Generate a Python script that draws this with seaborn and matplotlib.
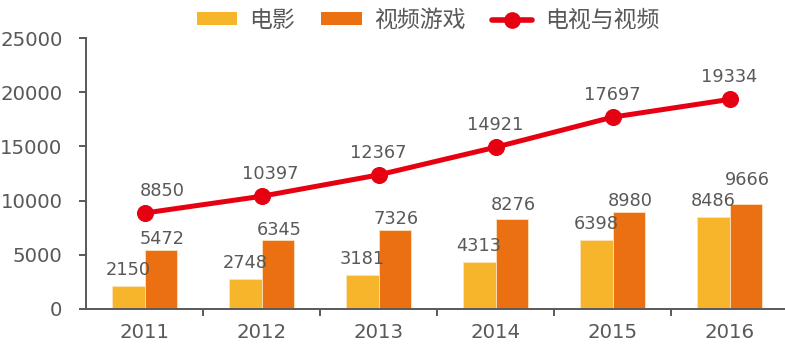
import numpy as np
import pandas as pd
import matplotlib
matplotlib.use("Agg")
import matplotlib.pyplot as plt
import seaborn as sns
from matplotlib.patches import Patch
from matplotlib.lines import Line2D

# datos
years = ["2011", "2012", "2013", "2014", "2015", "2016"]
movies = [2150, 2748, 3181, 4313, 6398, 8486]
games = [5472, 6345, 7326, 8276, 8980, 9666]
tv_video = [8850, 10397, 12367, 14921, 17697, 19334]
series_names = ["电影", "视频游戏", "电视与视频"]

sns.set_theme(style="white")
plt.rcParams["font.family"] = ["DejaVu Sans", "Noto Sans CJK SC"]

gray = "#595959"
c_movie = "#F7B52C"
c_game = "#EB7012"
c_line = "#E60012"

df = pd.DataFrame({"year": years * 2,
                   "value": movies + games,
                   "serie": [series_names[0]] * 6 + [series_names[1]] * 6})

fig = plt.figure(figsize=(7.85, 3.54), dpi=100)
ax = fig.add_axes([86 / 785, 45 / 354, 702 / 785, 271 / 354])

sns.barplot(data=df, x="year", y="value", hue="serie",
            palette=[c_movie, c_game], saturation=1, width=0.56, gap=0,
            edgecolor="#FBE3C0", linewidth=0.6, legend=False, ax=ax)

x = np.arange(len(years))
sns.lineplot(x=x, y=tv_video, color=c_line, linewidth=3.6, marker="o",
             markersize=11.5, markeredgecolor=c_line, ax=ax)

# etiquetas de valores (ajustes a mano como en el original)
fs = 12.8
game_off = [1, 1, 1, 4, 1, 11]
line_dx = [13, 6, 0, 0, 0, 0]
for i in range(len(years)):
    ax.annotate(f"{movies[i]}", (x[i] - 0.14, movies[i]), xytext=(0, 5),
                textcoords="offset points", ha="center", va="bottom",
                fontsize=fs, color=gray)
    ax.annotate(f"{games[i]}", (x[i] + 0.14, games[i]),
                xytext=(1, game_off[i]),
                textcoords="offset points", ha="center", va="bottom",
                fontsize=fs, color=gray)
    ax.annotate(f"{tv_video[i]}", (x[i], tv_video[i]),
                xytext=(line_dx[i], 9.5),
                textcoords="offset points", ha="center", va="bottom",
                fontsize=fs, color=gray)

ax.set_xlim(-0.5, 5.5)
ax.set_ylim(0, 25000)
ax.set_yticks(np.arange(0, 25001, 5000))
ax.set_xticks(x)
ax.set_xticklabels(years)
ax.set_xticks(np.arange(0.5, 5.6, 1), minor=True)
ax.set_xlabel("")
ax.set_ylabel("")

for s in ["top", "right"]:
    ax.spines[s].set_visible(False)
for s in ["left", "bottom"]:
    ax.spines[s].set_color(gray)
    ax.spines[s].set_linewidth(1.4)

ax.tick_params(axis="y", left=True, direction="out", length=5, width=1.4,
               color=gray, labelcolor=gray, labelsize=14.2, pad=12)
ax.tick_params(axis="x", which="major", bottom=True, length=0,
               labelcolor=gray, labelsize=14.2, pad=10)
ax.tick_params(axis="x", which="minor", bottom=True, direction="out",
               length=5, width=1.4, color=gray)

handles = [
    Patch(facecolor=c_movie, edgecolor="none"),
    Patch(facecolor=c_game, edgecolor="none"),
    Line2D([0], [0], color=c_line, linewidth=4, marker="o", markersize=11),
]
# leyenda arriba
fig.legend(handles, series_names, loc="center", bbox_to_anchor=(0.545, 0.943),
           ncol=3, frameon=False, fontsize=16.5, labelcolor=gray,
           handlelength=1.75, handleheight=0.45, columnspacing=1.15,
           handletextpad=0.55)

fig.savefig("out.png", dpi=100)
